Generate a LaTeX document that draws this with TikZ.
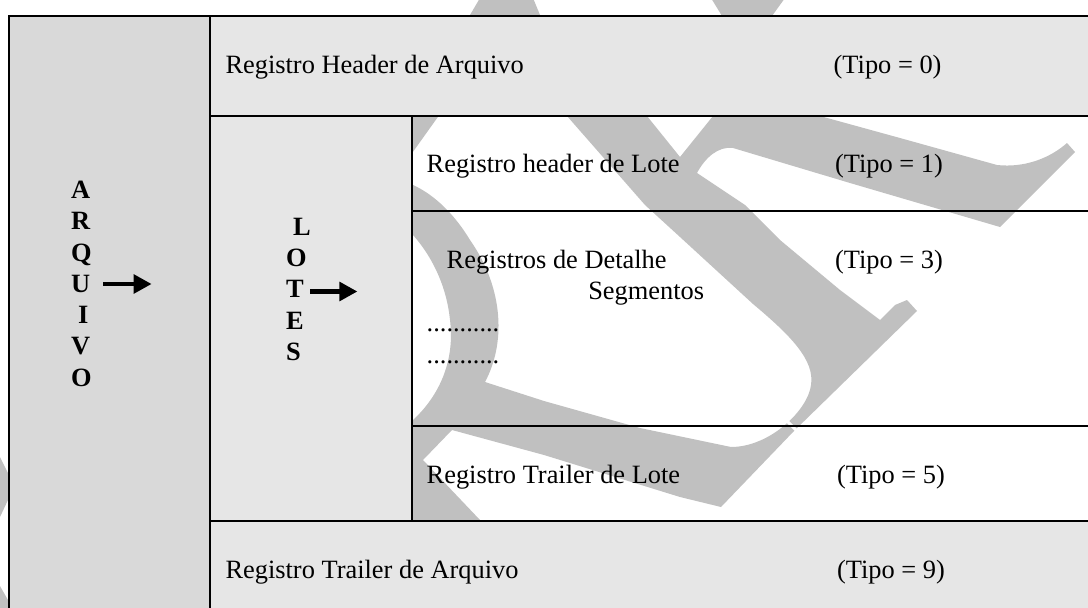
\documentclass[tikz,border=0pt]{standalone}
\usepackage{fontspec}
\setmainfont{Liberation Serif}
\usetikzlibrary{arrows.meta}
\definecolor{arqgray}{HTML}{D9D9D9}
\definecolor{cellgray}{HTML}{E6E6E6}
\definecolor{wmgray}{HTML}{C0C0C0}
\tikzset{
  cell/.style={draw=black, line width=2pt, rectangle, inner sep=0pt, outer sep=0pt, anchor=north west},
  txt/.style={anchor=base west, inner sep=0pt, outer sep=0pt, font=\fontsize{26.4}{31.7}\selectfont},
  vtxt/.style={anchor=base west, inner sep=0pt, outer sep=0pt, font=\fontsize{26.4}{31.7}\selectfont\bfseries},
  bigarrow/.style={line width=4.3pt, -{Triangle[length=18pt,width=18.5pt]}},
  wm/.style={fill=wmgray, draw=none}
}
\begin{document}
\begin{tikzpicture}[x=1pt, y=-1pt]
\useasboundingbox (0,0) rectangle (1088,608);
% ---- watermark (behind the table) ----
\fill[wm, even odd rule]
  (480,-2) -- (533,-2) -- (540,15) -- (647,116) -- (680,157) -- (713,116) -- (820,116)
  -- (900,138) -- (997,165) .. controls (1025,168) and (1050,158) .. (1067,143) -- (1075,152)
  -- (1000,227) -- (850,183) -- (733,148) .. controls (718,146) and (705,158) .. (697,173)
  -- (745,205) -- (780,240) -- (840,290) -- (880,320) -- (895,305) -- (907,300) -- (917,311)
  -- (794,431) -- (721,507) -- (680,497) -- (544,455) -- (452,430) -- (423,460) -- (480,520)
  -- (480,545) -- (405,545) -- (405,420) -- (413,420)
  .. controls (440,395) and (455,360) .. (450,320) .. controls (447,290) and (435,260) .. (413,235)
  -- (405,235) -- (405,30) -- (470,15) -- cycle
  (540,90) -- (567,116) -- (645,205) -- (680,237) -- (753,304)
  .. controls (790,335) and (815,360) .. (811,385) .. controls (808,410) and (770,447) .. (731,447)
  -- (640,428) -- (544,401) -- (485,382)
  .. controls (505,345) and (505,290) .. (470,240) .. controls (455,215) and (435,195) .. (413,185)
  -- (400,170) -- (450,100) -- cycle;
\fill[wm] (711,-2) -- (785,-2) -- (772,16) -- (760,30) -- (725,30) -- (722,16) -- cycle;
\fill[wm] (0,457) -- (8,473) -- (8,500) -- (0,517) -- cycle;
\fill[wm] (0,586) -- (8,600) -- (8,608) -- (0,608) -- cycle;
\draw[white, line width=3pt] (785,419) -- (799,433);
% ---- table cells ----
\node[cell, fill=arqgray, minimum width=201pt, minimum height=610pt] (arq) at (8.5,16) {};
\node[cell, fill=cellgray, minimum width=890pt, minimum height=100pt] (hdr) at (209.5,16) {};
\node[cell, fill=cellgray, minimum width=202.5pt, minimum height=405pt] (lotes) at (209.5,116) {};
\node[cell, minimum width=688pt, minimum height=95pt] (hlote) at (412,116) {};
\node[cell, minimum width=688pt, minimum height=215pt] (det) at (412,211) {};
\node[cell, minimum width=688pt, minimum height=95pt] (tlote) at (412,426) {};
\node[cell, fill=cellgray, minimum width=890pt, minimum height=100pt] (tarq) at (209.5,521) {};
% ---- texts ----
\node[txt] (t0a) at (225.5,73.3) {Registro Header de Arquivo};
\node[txt] (t0b) at (833.7,73.3) {(Tipo = 0)};
\node[txt] (t1a) at (426.7,172.5) {Registro header de Lote};
\node[txt] (t1b) at (835,172.5) {(Tipo = 1)};
\node[txt] (t3a) at (446.7,268.3) {Registros de Detalhe};
\node[txt] (t3b) at (835,268.3) {(Tipo = 3)};
\node[txt] (t3c) at (588.3,299.5) {Segmentos};
\node[txt] (t3d) at (426.7,331.5) {...........};
\node[txt] (t3e) at (426.7,363) {...........};
\node[txt] (t5a) at (426.7,483) {Registro Trailer de Lote};
\node[txt] (t5b) at (837,483) {(Tipo = 5)};
\node[txt] (t9a) at (225.5,578) {Registro Trailer de Arquivo};
\node[txt] (t9b) at (837,578) {(Tipo = 9)};
% ---- vertical words ----
\node[vtxt] (vA) at (71,198) {A};
\node[vtxt] (vR) at (71,229.5) {R};
\node[vtxt] (vQ) at (71,261) {Q};
\node[vtxt] (vU) at (71,292) {U};
\node[vtxt] (vI) at (78,323) {I};
\node[vtxt] (vV) at (71,354.5) {V};
\node[vtxt] (vO) at (71,386) {O};
\node[vtxt] (lL) at (293,235) {L};
\node[vtxt] (lO) at (286,266.5) {O};
\node[vtxt] (lT) at (286,297.5) {T};
\node[vtxt] (lE) at (286,329) {E};
\node[vtxt] (lS) at (286,360) {S};
% ---- arrows ----
\coordinate (a1s) at (103,284);
\coordinate (a1e) at (151.6,284);
\coordinate (a2s) at (310,291.5);
\coordinate (a2e) at (357.4,291.5);
\draw[bigarrow] (a1s) -- (a1e);
\draw[bigarrow] (a2s) -- (a2e);
\end{tikzpicture}
\end{document}
